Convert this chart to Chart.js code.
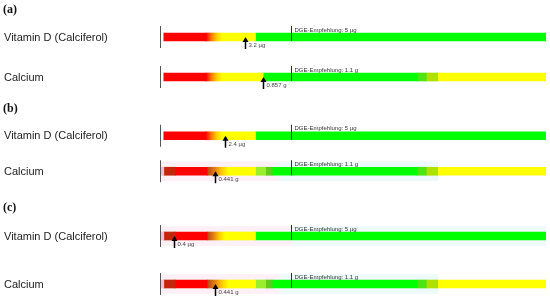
<!DOCTYPE html>
<html>
<head>
<meta charset="utf-8">
<script src="https://cdn.jsdelivr.net/npm/chart.js@4"></script>
<style>
html, body { margin: 0; padding: 0; background: #fff; overflow: hidden; width: 550px; height: 300px; }
canvas { position: absolute; left: 0; }
</style>
</head>
<body>
<canvas id="pa" width="550" height="100" style="top:0px"></canvas>
<canvas id="pb" width="550" height="100" style="top:100px"></canvas>
<canvas id="pc" width="550" height="108" style="top:200px"></canvas>
<script>
// panels and nutrients
const panelLabels = ['(a)', '(b)', '(c)'];
const nutrients = ['Vitamin D (Calciferol)', 'Calcium'];
const units = ['µg', 'g'];
const recommended = [5, 1.1];   // DGE-Empfehlung
const intakeA = [3.2, 0.857];
const intakeB = [2.4, 0.441];
const intakeC = [0.4, 0.441];

// rating zones, in % of the DGE recommendation
const vitDZonesA = [0, 33, 46, 72, 300];
const vitDKindsA = ['red', 'redFade', 'yellow', 'green'];
const vitDZonesC = [-3, 0, 9, 34, 48, 72, 300];
const vitDKindsC = ['pink', 'darkRed', 'red', 'brownFade', 'yellow', 'green'];
const caZonesA = [0, 33, 46, 78, 199, 206, 215, 300];
const caKindsA = ['red', 'redFade', 'yellow', 'green', 'green2', 'lime2', 'yellow'];
const caZonesB = [-3, 0, 9, 34, 51, 72, 80, 85, 199, 206, 215, 300];
const caKindsB = ['pink', 'darkRed', 'red', 'brownFade', 'yellow', 'lime', 'olive', 'green', 'green2', 'lime2', 'yellow'];
// faint highlight behind some rows
const bandZonesCa = [-3, 90, 215];
const bandZonesVitD = [-3, 100, 300];
const bandKinds = ['pinkBand', 'cyanBand'];

const colours = {
  red: '#ff0000', darkRed: '#c4250c', pink: '#f8b8d6', yellow: '#ffff00',
  green: '#00ff00', green2: '#4fe312', lime2: '#b0e000', lime: '#9bee2e', olive: '#5ccc1e',
  pinkBand: '#fdf0f6', cyanBand: '#edf9fb',
  redFade: ['#ff0000', '#ff7a00', '#ffd000', '#ffff00'],
  brownFade: ['#b84412', '#e07a14', '#ffc800', '#ffff00']
};

function fill(chart, kind, from, to) {
  const c = colours[kind];
  if (!Array.isArray(c)) return c;
  const x = chart.scales && chart.scales.x;
  if (!x) return c[0];
  const x0 = x.getPixelForValue(from), x1 = x.getPixelForValue(to);
  if (!isFinite(x0) || !isFinite(x1) || x0 === x1) return c[0];
  const g = chart.ctx.createLinearGradient(x0, 0, x1, 0);
  c.forEach((col, i) => g.addColorStop(i / (c.length - 1), col));
  return g;
}

function zoneSets(rowsZones, rowsKinds, thickness, order) {
  const sets = [];
  rowsZones.forEach((zones, r) => {
    if (!zones) return;
    for (let k = 0; k < zones.length - 1; k++) {
      const data = rowsZones.map(() => null);
      data[r] = [zones[k], zones[k + 1]];
      const kind = rowsKinds[r][k];
      const from = zones[k], to = zones[k + 1];
      sets.push({
        data,
        barThickness: thickness,
        order,
        grouped: false,
        borderWidth: 0,
        borderSkipped: false,
        backgroundColor: c => fill(c.chart, kind, from, to)
      });
    }
  });
  return sets;
}

const panels = [
  { id: 'pa', label: panelLabels[0], intake: intakeA, zones: [vitDZonesA, caZonesA], kinds: [vitDKindsA, caKindsA],
    bands: [null, null], pad: [17, 3], labelY: 10 },
  { id: 'pb', label: panelLabels[1], intake: intakeB, zones: [vitDZonesA, caZonesB], kinds: [vitDKindsA, caKindsB],
    bands: [null, bandZonesCa], pad: [18, 11], labelY: 9 },
  { id: 'pc', label: panelLabels[2], intake: intakeC, zones: [vitDZonesC, caZonesB], kinds: [vitDKindsC, caKindsB],
    bands: [bandZonesVitD, bandZonesCa], pad: [12, 0], labelY: 8 }
];

// labels, reference lines and intake arrows
const markers = {
  id: 'markers',
  afterDatasetsDraw(chart, args, opts) {
    const { ctx, chartArea } = chart;
    const x = chart.scales.x, y = chart.scales.y;
    const p = opts.panel;
    ctx.save();
    ctx.textAlign = 'left';
    ctx.font = 'bold 12px "Liberation Serif"';
    ctx.fillStyle = '#111';
    ctx.textBaseline = 'middle';
    ctx.fillText(p.label, 3, p.labelY);

    nutrients.forEach((name, r) => {
      const cy = y.getPixelForValue(r);
      ctx.font = '11px "Liberation Sans"';
      ctx.fillStyle = '#222';
      ctx.textBaseline = 'middle';
      ctx.fillText(name, 4, cy + 0.5);

      // left edge
      ctx.strokeStyle = '#555';
      ctx.lineWidth = 1;
      ctx.beginPath();
      ctx.moveTo(chartArea.left + 0.5, cy - 11);
      ctx.lineTo(chartArea.left + 0.5, cy + 11);
      ctx.stroke();

      // recommendation
      const rx = Math.round(x.getPixelForValue(100)) + 0.5;
      ctx.strokeStyle = '#2b2b55';
      ctx.beginPath();
      ctx.moveTo(rx, cy - 11);
      ctx.lineTo(rx, cy + 4);
      ctx.stroke();
      ctx.font = '6px "Liberation Sans"';
      ctx.fillStyle = '#333';
      ctx.textBaseline = 'alphabetic';
      ctx.fillText('DGE-Empfehlung: ' + recommended[r] + ' ' + units[r], rx + 3, cy - 5.5);

      // intake arrow
      const val = p.intake[r];
      const ax = Math.round(x.getPixelForValue(val / recommended[r] * 100)) + 0.5;
      ctx.fillStyle = '#000';
      ctx.beginPath();
      ctx.moveTo(ax, cy);
      ctx.lineTo(ax - 3, cy + 5);
      ctx.lineTo(ax + 3, cy + 5);
      ctx.closePath();
      ctx.fill();
      ctx.strokeStyle = '#000';
      ctx.lineWidth = 1.5;
      ctx.beginPath();
      ctx.moveTo(ax, cy + 4);
      ctx.lineTo(ax, cy + 12);
      ctx.stroke();
      ctx.font = '6px "Liberation Sans"';
      ctx.fillStyle = '#444';
      ctx.fillText(val + ' ' + units[r], ax + 3, cy + 10);
    });
    ctx.restore();
  }
};

panels.forEach(p => {
  const datasets = zoneSets(p.zones, p.kinds, 8, 0)
    .concat(zoneSets(p.bands, p.bands.map(() => bandKinds), 19, 1));
  new Chart(document.getElementById(p.id).getContext('2d'), {
    type: 'bar',
    data: { labels: nutrients, datasets },
    options: {
      indexAxis: 'y',
      responsive: false,
      animation: false,
      devicePixelRatio: 1,
      layout: { padding: { left: 160, right: 4, top: p.pad[0], bottom: p.pad[1] } },
      scales: {
        x: { type: 'linear', min: -3, max: 300, display: false },
        y: { display: false }
      },
      plugins: {
        legend: { display: false },
        tooltip: { enabled: false },
        markers: { panel: p }
      }
    },
    plugins: [markers]
  });
});
</script>
</body>
</html>
